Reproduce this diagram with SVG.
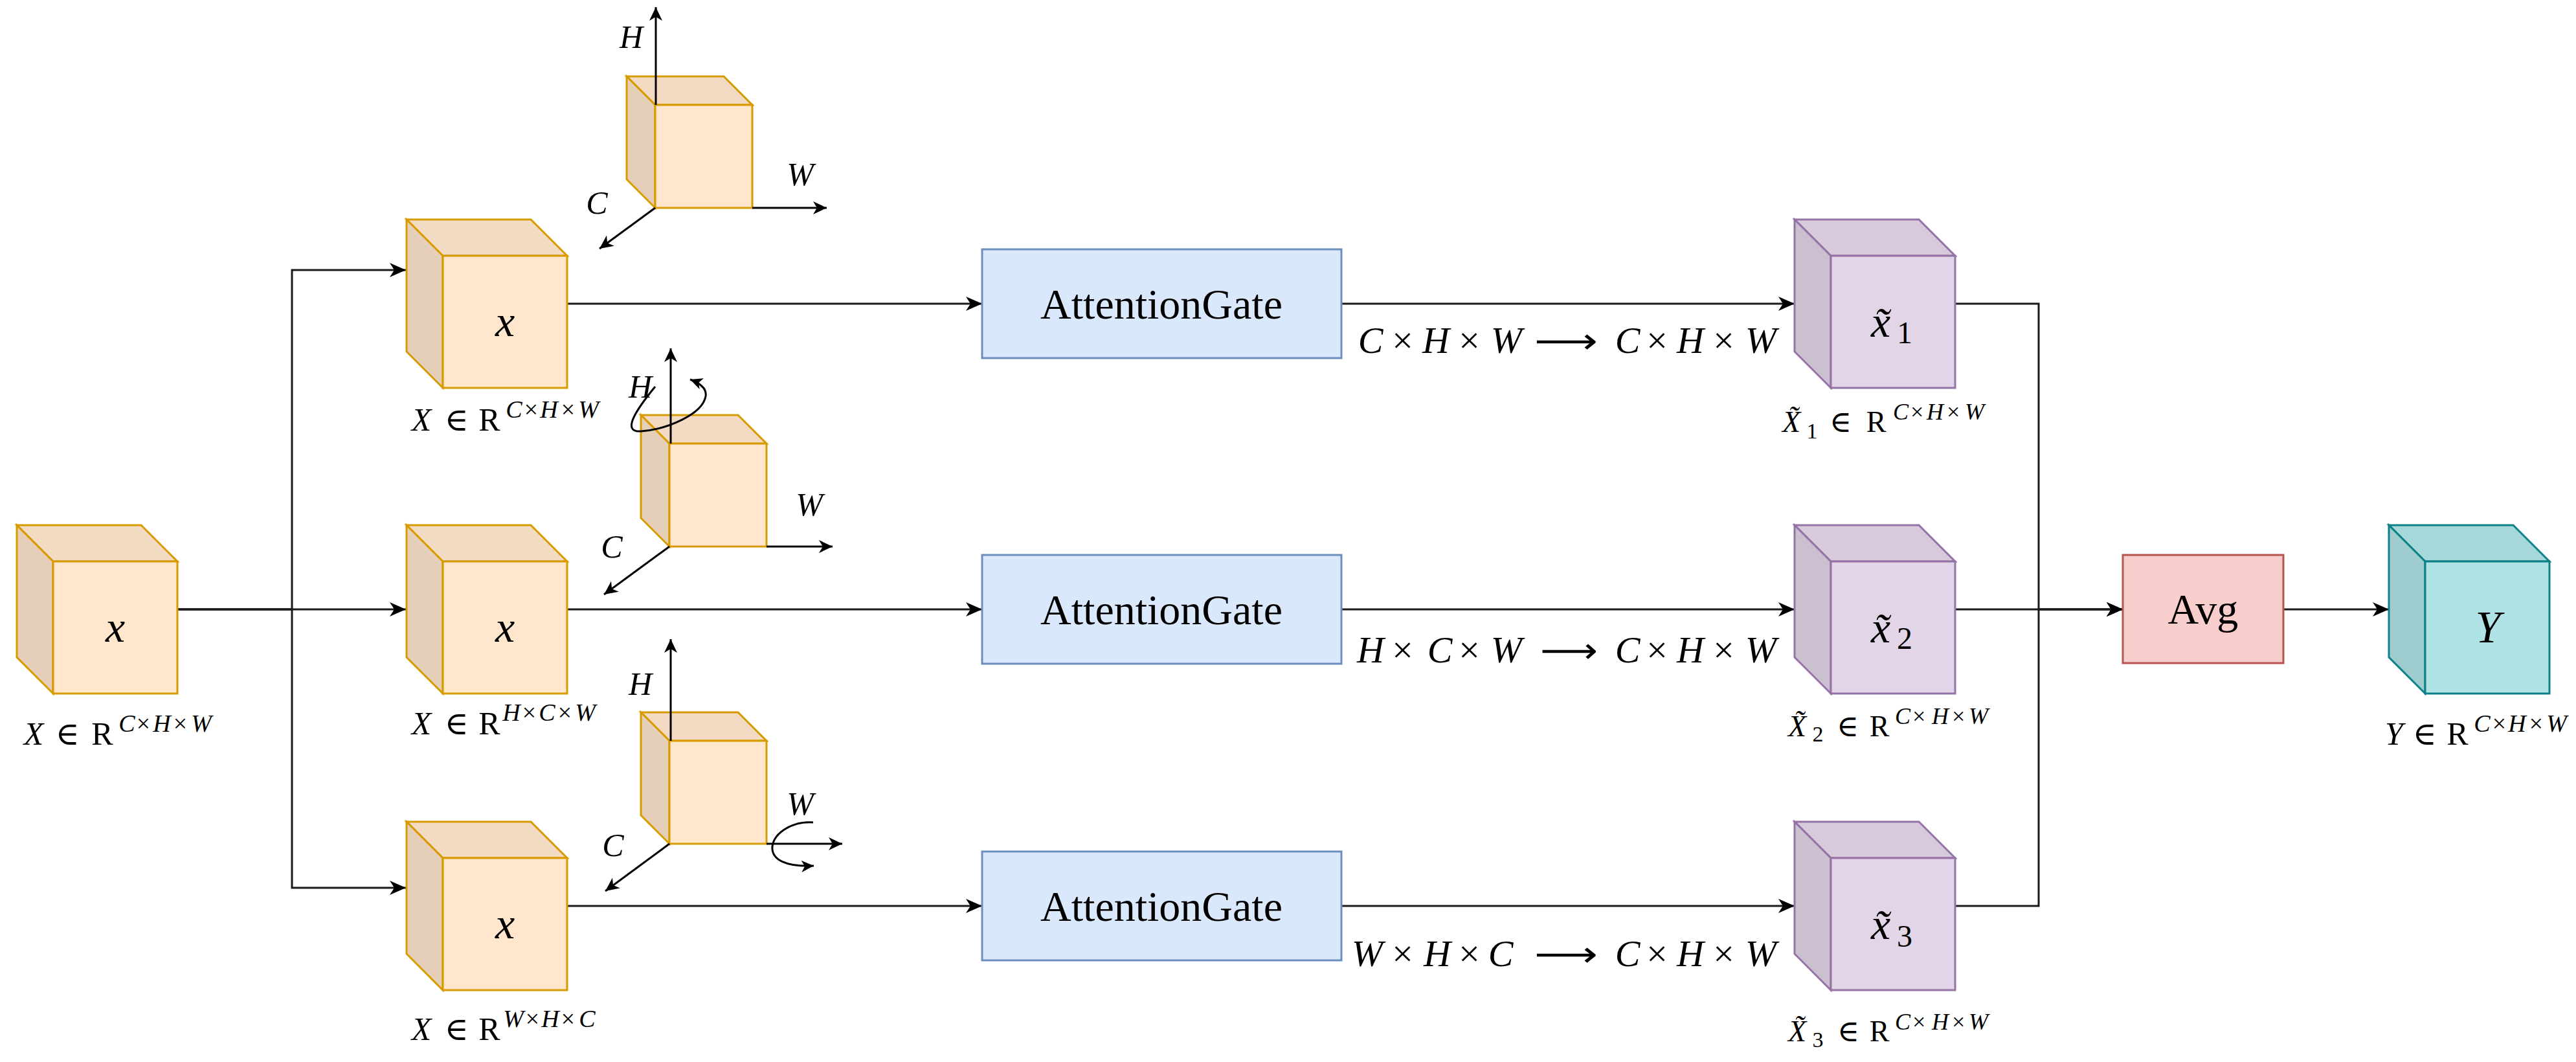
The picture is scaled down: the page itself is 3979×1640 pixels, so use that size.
<svg xmlns="http://www.w3.org/2000/svg" width="3979" height="1640" viewBox="0 0 3979 1640">
<defs>
<style>
.t{font-family:"Liberation Serif","DejaVu Serif",serif;fill:#000}
.i{font-style:italic}
.oF{fill:#ffe6cc}.oT{fill:#f2dbc2}.oL{fill:#e6cfb8}
.pF{fill:#e1d5e7}.pT{fill:#d6cadb}.pL{fill:#cbc0d0}
.gF{fill:#b0e3e6}.gT{fill:#a7d8da}.gL{fill:#9eccce}
.oS{stroke:#d79b00}.pS{stroke:#9673a6}.gS{stroke:#0e8088}
.cube path,.cube rect{stroke-width:3;stroke-linejoin:miter}
.con{fill:none;stroke:#1a1a1a;stroke-width:3}
.ax{fill:none;stroke:#000;stroke-width:3}
.rot{fill:none;stroke:#000;stroke-width:2.5}
.lbl{font-size:50px}
.sup{font-size:38px}
.plbl{font-size:46px}
.psup{font-size:36px}
.psub{font-size:34px}
.shp{font-size:58px}
.arw{font-family:"DejaVu Sans",sans-serif;font-size:54px}
</style>
<marker id="ah" markerUnits="userSpaceOnUse" markerWidth="26" markerHeight="24" viewBox="0 0 26 24" refX="25" refY="12" orient="auto"><path d="M0,1 L25,12 L0,23 L7,12 Z" fill="#000"/></marker>
<marker id="aa" markerUnits="userSpaceOnUse" markerWidth="22" markerHeight="22" viewBox="0 0 22 22" refX="21" refY="11" orient="auto"><path d="M0,1 L21,11 L0,21 L6,11 Z" fill="#000"/></marker>
<marker id="ar" markerUnits="userSpaceOnUse" markerWidth="20" markerHeight="20" viewBox="0 0 20 20" refX="19" refY="10" orient="auto"><path d="M0,1 L19,10 L0,19 L5,10 Z" fill="#000"/></marker>
</defs>
<rect width="3979" height="1640" fill="#fff"/>

<!-- connectors -->
<g id="connectors">
<path class="con" d="M274,941 H451 V417 H627" marker-end="url(#ah)"/>
<path class="con" d="M274,941 H627" marker-end="url(#ah)"/>
<path class="con" d="M274,941 H451 V1371 H627" marker-end="url(#ah)"/>
<path class="con" d="M876,469 H1517" marker-end="url(#ah)"/>
<path class="con" d="M876,941 H1517" marker-end="url(#ah)"/>
<path class="con" d="M876,1399 H1517" marker-end="url(#ah)"/>
<path class="con" d="M2072,469 H2772" marker-end="url(#ah)"/>
<path class="con" d="M2072,941 H2772" marker-end="url(#ah)"/>
<path class="con" d="M2072,1399 H2772" marker-end="url(#ah)"/>
<path class="con" d="M3020,469 H3149 V941 H3279" marker-end="url(#ah)"/>
<path class="con" d="M3020,941 H3279" marker-end="url(#ah)"/>
<path class="con" d="M3020,1399 H3149 V941 H3279" marker-end="url(#ah)"/>
<path class="con" d="M3527,941 H3690" marker-end="url(#ah)"/>
</g>

<!-- input cube -->
<g id="input" class="cube">
<path class="oT oS" d="M26,811 H218 L274,867 H82 Z"/>
<path class="oL oS" d="M26,811 L82,867 V1071 L26,1015 Z"/>
<rect class="oF oS" x="82" y="867" width="192" height="204"/>
<text class="t i" x="178" y="991" font-size="68" text-anchor="middle">x</text>
<text class="t lbl" y="1150" text-anchor="middle"><tspan class="i" x="52">X</tspan><tspan x="104">∈</tspan><tspan x="158">R</tspan><tspan class="i sup" x="196 221 250 278 311" y="1130">C×H×W</tspan></text>
</g>

<!-- branch cubes -->
<g id="cube-top" class="cube">
<path class="oT oS" d="M628,339 H820 L876,395 H684 Z"/>
<path class="oL oS" d="M628,339 L684,395 V599 L628,543 Z"/>
<rect class="oF oS" x="684" y="395" width="192" height="204"/>
<text class="t i" x="780" y="519" font-size="68" text-anchor="middle">x</text>
<text class="t lbl" y="665" text-anchor="middle"><tspan class="i" x="651">X</tspan><tspan x="705">∈</tspan><tspan x="756">R</tspan><tspan class="i sup" x="794 820 848 877 909" y="645">C×H×W</tspan></text>
</g>
<g id="cube-mid" class="cube">
<path class="oT oS" d="M628,811 H820 L876,867 H684 Z"/>
<path class="oL oS" d="M628,811 L684,867 V1071 L628,1015 Z"/>
<rect class="oF oS" x="684" y="867" width="192" height="204"/>
<text class="t i" x="780" y="991" font-size="68" text-anchor="middle">x</text>
<text class="t lbl" y="1134" text-anchor="middle"><tspan class="i" x="651">X</tspan><tspan x="705">∈</tspan><tspan x="756">R</tspan><tspan class="i sup" x="790 817 845 872 904" y="1113">H×C×W</tspan></text>
</g>
<g id="cube-bot" class="cube">
<path class="oT oS" d="M628,1269 H820 L876,1325 H684 Z"/>
<path class="oL oS" d="M628,1269 L684,1325 V1529 L628,1473 Z"/>
<rect class="oF oS" x="684" y="1325" width="192" height="204"/>
<text class="t i" x="780" y="1449" font-size="68" text-anchor="middle">x</text>
<text class="t lbl" y="1606" text-anchor="middle"><tspan class="i" x="651">X</tspan><tspan x="705">∈</tspan><tspan x="756">R</tspan><tspan class="i sup" x="793 822 850 877 907" y="1586">W×H×C</tspan></text>
</g>

<!-- axis cubes -->
<g id="axes-top" class="cube">
<path class="oT oS" d="M968,118 H1118 L1162,162 H1012 Z"/>
<path class="oL oS" d="M968,118 L1012,162 V321 L968,277 Z"/>
<rect class="oF oS" x="1012" y="162" width="150" height="159"/>
<path class="ax" d="M1013,162 V11" marker-end="url(#aa)"/>
<path class="ax" d="M1162,321 H1277" marker-end="url(#aa)"/>
<path class="ax" d="M1012,321 L926,384" marker-end="url(#aa)"/>
<text class="t i lbl" x="975" y="74" text-anchor="middle">H</text>
<text class="t i lbl" x="1236" y="286" text-anchor="middle">W</text>
<text class="t i lbl" x="922" y="330" text-anchor="middle">C</text>
</g>
<g id="axes-mid" class="cube">
<path class="oT oS" d="M990,641 H1140 L1184,685 H1034 Z"/>
<path class="oL oS" d="M990,641 L1034,685 V844 L990,800 Z"/>
<rect class="oF oS" x="1034" y="685" width="150" height="159"/>
<path class="ax" d="M1036,685 V538" marker-end="url(#aa)"/>
<path class="ax" d="M1184,844 H1286" marker-end="url(#aa)"/>
<path class="ax" d="M1034,844 L933,918" marker-end="url(#aa)"/>
<path class="rot" d="M1012,597 C985,630 958,668 990,666 C1030,663 1085,640 1090,612 C1092,600 1082,592 1066,586" marker-end="url(#ar)"/>
<text class="t i lbl" x="989" y="614" text-anchor="middle">H</text>
<text class="t i lbl" x="1250" y="796" text-anchor="middle">W</text>
<text class="t i lbl" x="945" y="861" text-anchor="middle">C</text>
</g>
<g id="axes-bot" class="cube">
<path class="oT oS" d="M990,1100 H1140 L1184,1144 H1034 Z"/>
<path class="oL oS" d="M990,1100 L1034,1144 V1303 L990,1259 Z"/>
<rect class="oF oS" x="1034" y="1144" width="150" height="159"/>
<path class="ax" d="M1036,1144 V987" marker-end="url(#aa)"/>
<path class="ax" d="M1184,1303 H1301" marker-end="url(#aa)"/>
<path class="ax" d="M1034,1303 L935,1376" marker-end="url(#aa)"/>
<path class="rot" d="M1256,1270 C1225,1268 1196,1285 1193,1307 C1191,1328 1215,1339 1257,1337" marker-end="url(#ar)"/>
<text class="t i lbl" x="989" y="1073" text-anchor="middle">H</text>
<text class="t i lbl" x="1236" y="1258" text-anchor="middle">W</text>
<text class="t i lbl" x="947" y="1322" text-anchor="middle">C</text>
</g>

<!-- attention gates -->
<g id="ag1">
<rect x="1517" y="385" width="555" height="168" fill="#dae8fc" stroke="#6c8ebf" stroke-width="3"/>
<text class="t" x="1794" y="492" font-size="66" text-anchor="middle">AttentionGate</text>
</g>
<g id="ag2">
<rect x="1517" y="857" width="555" height="168" fill="#dae8fc" stroke="#6c8ebf" stroke-width="3"/>
<text class="t" x="1794" y="964" font-size="66" text-anchor="middle">AttentionGate</text>
</g>
<g id="ag3">
<rect x="1517" y="1315" width="555" height="168" fill="#dae8fc" stroke="#6c8ebf" stroke-width="3"/>
<text class="t" x="1794" y="1422" font-size="66" text-anchor="middle">AttentionGate</text>
</g>

<!-- shape labels -->
<g id="shape-labels">
<text class="t i shp" x="2117 2166 2218 2269 2327" y="545" text-anchor="middle">C×H×W</text>
<text class="arw" x="2370" y="545" textLength="98" lengthAdjust="spacingAndGlyphs">⟶</text>
<text class="t i shp" x="2514 2559 2611 2662 2720" y="545" text-anchor="middle">C×H×W</text>
<text class="t i shp" x="2117 2166 2224 2269 2327" y="1023" text-anchor="middle">H×C×W</text>
<text class="arw" x="2379" y="1023" textLength="89" lengthAdjust="spacingAndGlyphs">⟶</text>
<text class="t i shp" x="2514 2559 2611 2662 2720" y="1023" text-anchor="middle">C×H×W</text>
<text class="t i shp" x="2112 2166 2220 2269 2318" y="1492" text-anchor="middle">W×H×C</text>
<text class="arw" x="2370" y="1492" textLength="98" lengthAdjust="spacingAndGlyphs">⟶</text>
<text class="t i shp" x="2514 2559 2611 2662 2720" y="1492" text-anchor="middle">C×H×W</text>
</g>

<!-- output cubes -->
<g id="out1" class="cube">
<path class="pT pS" d="M2772,339 H2964 L3020,395 H2828 Z"/>
<path class="pL pS" d="M2772,339 L2828,395 V599 L2772,543 Z"/>
<rect class="pF pS" x="2828" y="395" width="192" height="204"/>
<text class="t" y="520"><tspan class="i" x="2890" font-size="68">x̃</tspan><tspan x="2930" y="530" font-size="48">1</tspan></text>
<text class="t plbl" y="667" text-anchor="middle"><tspan class="i" x="2767">X̃</tspan><tspan class="psub" x="2799" y="677">1</tspan><tspan x="2843" y="667">∈</tspan><tspan x="2898">R</tspan><tspan class="i psup" x="2936 2961 2989 3017 3050" y="648">C×H×W</tspan></text>
</g>
<g id="out2" class="cube">
<path class="pT pS" d="M2772,811 H2964 L3020,867 H2828 Z"/>
<path class="pL pS" d="M2772,811 L2828,867 V1071 L2772,1015 Z"/>
<rect class="pF pS" x="2828" y="867" width="192" height="204"/>
<text class="t" y="992"><tspan class="i" x="2890" font-size="68">x̃</tspan><tspan x="2930" y="1002" font-size="48">2</tspan></text>
<text class="t plbl" y="1137" text-anchor="middle"><tspan class="i" x="2776">X̃</tspan><tspan class="psub" x="2808" y="1145">2</tspan><tspan x="2854" y="1137">∈</tspan><tspan x="2903">R</tspan><tspan class="i psup" x="2939 2964 2997 3025 3056" y="1118">C×H×W</tspan></text>
</g>
<g id="out3" class="cube">
<path class="pT pS" d="M2772,1269 H2964 L3020,1325 H2828 Z"/>
<path class="pL pS" d="M2772,1269 L2828,1325 V1529 L2772,1473 Z"/>
<rect class="pF pS" x="2828" y="1325" width="192" height="204"/>
<text class="t" y="1450"><tspan class="i" x="2890" font-size="68">x̃</tspan><tspan x="2930" y="1462" font-size="48">3</tspan></text>
<text class="t plbl" y="1608" text-anchor="middle"><tspan class="i" x="2776">X̃</tspan><tspan class="psub" x="2808" y="1617">3</tspan><tspan x="2855" y="1608">∈</tspan><tspan x="2903">R</tspan><tspan class="i psup" x="2939 2964 2997 3025 3056" y="1590">C×H×W</tspan></text>
</g>

<!-- avg -->
<g id="avg">
<rect x="3279" y="857" width="248" height="167" fill="#f8cecc" stroke="#b85450" stroke-width="3"/>
<text class="t" x="3403" y="963" font-size="66" text-anchor="middle">Avg</text>
</g>

<!-- result cube -->
<g id="result" class="cube">
<path class="gT gS" d="M3690,811 H3882 L3938,867 H3746 Z"/>
<path class="gL gS" d="M3690,811 L3746,867 V1071 L3690,1015 Z"/>
<rect class="gF gS" x="3746" y="867" width="192" height="204"/>
<text class="t i" x="3843" y="992" font-size="70" text-anchor="middle">Y</text>
<text class="t lbl" y="1150" text-anchor="middle"><tspan class="i" x="3698">Y</tspan><tspan x="3745">∈</tspan><tspan x="3796">R</tspan><tspan class="i sup" x="3834 3860 3888 3917 3949" y="1130">C×H×W</tspan></text>
</g>
</svg>
